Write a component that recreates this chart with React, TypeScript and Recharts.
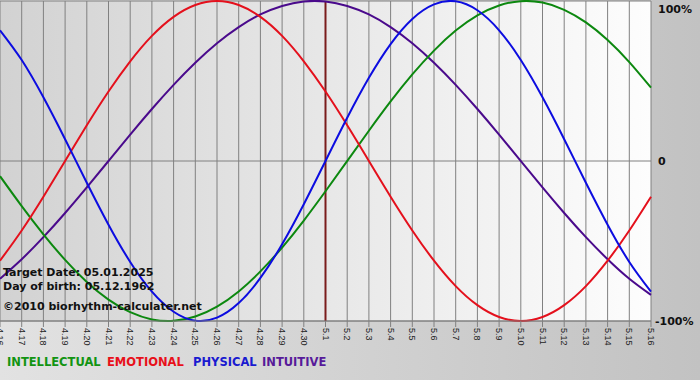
import React from "react";
import {
    LineChart,
    Line,
    XAxis,
    YAxis,
    CartesianGrid,
    ReferenceLine,
} from "recharts";

// days shown on the x axis
const days = [
    "4.16", "4.17", "4.18", "4.19", "4.20", "4.21", "4.22", "4.23", "4.24", "4.25",
    "4.26", "4.27", "4.28", "4.29", "4.30", "5.1", "5.2", "5.3", "5.4", "5.5",
    "5.6", "5.7", "5.8", "5.9", "5.10", "5.11", "5.12", "5.13", "5.14", "5.15", "5.16",
];

// cycle values in percent, one per day
const intellectual = [
    -9.5, -28.2, -45.8, -61.8, -75.6, -86.6, -94.5, -99.0, -99.9, -97.2,
    -91.0, -81.5, -69.0, -54.1, -37.2, -18.9, 0, 18.9, 37.2, 54.1,
    69.0, 81.5, 91.0, 97.2, 99.9, 99.0, 94.5, 86.6, 75.6, 61.8, 45.8,
];
const emotional = [
    -62.3, -43.4, -22.3, 0, 22.3, 43.4, 62.3, 78.2, 90.1, 97.5,
    100, 97.5, 90.1, 78.2, 62.3, 43.4, 22.3, 0, -22.3, -43.4,
    -62.3, -78.2, -90.1, -97.5, -100, -97.5, -90.1, -78.2, -62.3, -43.4, -22.3,
];
const physical = [
    81.7, 63.1, 39.8, 13.6, -13.6, -39.8, -63.1, -81.7, -94.2, -99.8,
    -97.9, -88.8, -73.1, -52.0, -27.0, 0, 27.0, 52.0, 73.1, 88.8,
    97.9, 99.8, 94.2, 81.7, 63.1, 39.8, 13.6, -13.6, -39.8, -63.1, -81.7,
];
const intuitive = [
    -73.6, -61.4, -47.6, -32.5, -16.5, 0, 16.5, 32.5, 47.6, 61.4,
    73.6, 83.7, 91.6, 96.9, 99.7, 99.7, 96.9, 91.6, 83.7, 73.6,
    61.4, 47.6, 32.5, 16.5, 0, -16.5, -32.5, -47.6, -61.4, -73.6, -83.7,
];

const yTicks = [-100, 0, 100];
const yLabels: Record<number, string> = { 100: "100%", 0: "0", [-100]: "-100%" };
const targetDay = "5.1";
const infoLines = [
    "Target Date: 05.01.2025",
    "Day of birth: 05.12.1962",
    "\u00a92010 biorhythm-calculater.net",
];
const legendItems = [
    { name: "INTELLECTUAL", color: "#129412" },
    { name: "EMOTIONAL", color: "#e8101a" },
    { name: "PHYSICAL", color: "#1a1ad0" },
    { name: "INTUITIVE", color: "#571a9a" },
];

const data = days.map((day, i) => ({
    day,
    intellectual: intellectual[i],
    emotional: emotional[i],
    physical: physical[i],
    intuitive: intuitive[i],
}));

const W = 700;
const H = 380;
const PLOT_TOP = 1;
const Y_AXIS_W = 49;
const X_AXIS_H = 59;

const boldFont = "'DejaVu Sans', Verdana, sans-serif";

function DayTick({ x, y, payload }: any) {
    return (
        <g transform={`translate(${x},${y})`}>
            <text
                transform="rotate(90)"
                dx={-1}
                dy={3}
                fontSize={9}
                fontFamily="'Liberation Sans', Arial, sans-serif"
                fill="#222"
                textAnchor="start"
            >
                {payload.value}
            </text>
        </g>
    );
}

function PercentTick({ y, payload }: any) {
    const left = W - Y_AXIS_W + 7;
    return (
        <text
            x={payload.value < 0 ? left - 3 : left}
            y={y + 4}
            fontSize={11}
            fontWeight="bold"
            fontFamily={boldFont}
            fill="#111"
            textAnchor="start"
        >
            {yLabels[payload.value]}
        </text>
    );
}

export default function App() {
    return (
        <div
            style={{
                position: "absolute",
                left: 0,
                top: 0,
                width: W,
                height: H,
                background: "linear-gradient(to right, #e2e2e2, #c2c2c2)",
                overflow: "hidden",
            }}
        >
            <div
                style={{
                    position: "absolute",
                    left: 0,
                    top: PLOT_TOP,
                    width: W - Y_AXIS_W,
                    height: H - PLOT_TOP - X_AXIS_H,
                    background: "linear-gradient(to right, #d2d2d2, #fdfdfd)",
                }}
            />
            <div style={{ position: "absolute", left: 0, top: 0 }}>
                <LineChart
                    width={W}
                    height={H}
                    data={data}
                    margin={{ top: PLOT_TOP, right: 0, bottom: 0, left: 0 }}
                >
                    <CartesianGrid stroke="#808080" strokeWidth={1} />
                    <XAxis
                        dataKey="day"
                        interval={0}
                        height={X_AXIS_H}
                        padding={{ left: 0, right: 0 }}
                        tick={<DayTick />}
                        tickSize={6}
                        tickLine={{ stroke: "#808080" }}
                        axisLine={{ stroke: "#808080" }}
                    />
                    <YAxis
                        orientation="right"
                        width={Y_AXIS_W}
                        domain={[-100, 100]}
                        ticks={yTicks}
                        tick={<PercentTick />}
                        axisLine={false}
                        tickLine={false}
                    />
                    <ReferenceLine x={targetDay} stroke="#7a1c1c" strokeWidth={2} />
                    <Line type="natural" dataKey="intuitive" stroke="#4a0a8c" strokeWidth={2} dot={false} isAnimationActive={false} />
                    <Line type="natural" dataKey="intellectual" stroke="#0c880f" strokeWidth={2} dot={false} isAnimationActive={false} />
                    <Line type="natural" dataKey="emotional" stroke="#e4101c" strokeWidth={2} dot={false} isAnimationActive={false} />
                    <Line type="natural" dataKey="physical" stroke="#0c0ce0" strokeWidth={2} dot={false} isAnimationActive={false} />
                </LineChart>
            </div>
            <svg
                width={W}
                height={H}
                style={{ position: "absolute", left: 0, top: 0, pointerEvents: "none" }}
            >
                {infoLines.map((t, i) => (
                    <text
                        key={t}
                        x={3}
                        y={[276, 290, 310][i]}
                        fontSize={11}
                        fontWeight="bold"
                        fontFamily={boldFont}
                        fill="#111"
                    >
                        {t}
                    </text>
                ))}
                {legendItems.map((item, i) => (
                    <text
                        key={item.name}
                        x={[7, 107, 193, 262][i]}
                        y={366}
                        fontSize={11.5}
                        fontWeight="bold"
                        fontFamily={boldFont}
                        fill={item.color}
                    >
                        {item.name}
                    </text>
                ))}
            </svg>
        </div>
    );
}
